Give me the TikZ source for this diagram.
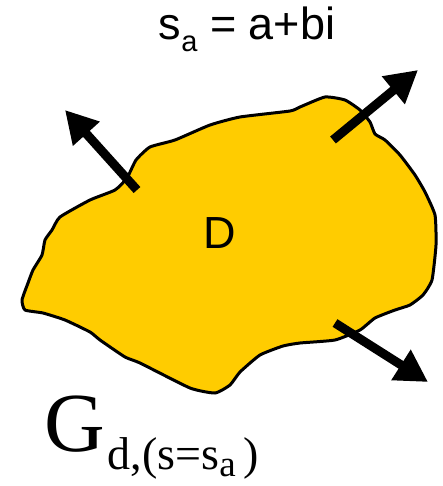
\documentclass[tikz,border=0pt]{standalone}
\usepackage{fontspec}
\setmainfont{Liberation Serif}
\setsansfont{Liberation Sans}
\usetikzlibrary{arrows.meta}
\definecolor{blobfill}{RGB}{255,204,0}
\tikzset{
  normal/.style={line width=9pt,-{Triangle[length=32pt,width=34pt]}},
  blob/.style={draw=black,line width=3pt,fill=blobfill,line join=round},
  sanslabel/.style={font=\sffamily\fontsize{45}{45}\selectfont,inner sep=0pt}
}
\begin{document}
\begin{tikzpicture}[x=1pt,y=-1pt]
\useasboundingbox (0,0) rectangle (442,486);
\path[blob] plot[smooth cycle,tension=0.3] coordinates {
 (60,217) (90,200) (115,190) (127,178) (136,160) (150,147) (175,140)
 (210,125) (240,117) (290,111) (300,107) (325,97) (345,100) (360,110)
 (370,122) (375,134) (385,140) (400,155) (415,175) (425,192) (435,215)
 (436,245) (432,280) (423,295) (410,305) (395,310) (375,318) (360,330)
 (335,340) (300,343) (283,346) (260,355) (240,372) (230,385) (215,393)
 (190,388) (140,363) (125,357) (100,340) (90,332) (65,320) (43,313)
 (25,310) (22,300) (28,283) (33,270) (42,255) (45,240) (52,230)
};
\node[sanslabel] (D) at (220,233) {D};
\node[sanslabel,anchor=base] (sa) at (247,40) {s\raisebox{-12pt}{\fontsize{29}{29}\selectfont a} = a+bi};
\node[inner sep=0pt,anchor=base west] (G) at (44,451)
  {\fontsize{84}{84}\selectfont G\hspace{3pt}\raisebox{-18pt}{\fontsize{46}{46}\selectfont d,(s=s\raisebox{-7pt}{\fontsize{37}{37}\selectfont a}\hspace{8pt})}};
\coordinate (t1) at (137,190); \coordinate (h1) at (65,110);
\coordinate (t2) at (333,140); \coordinate (h2) at (418,70);
\coordinate (t3) at (335,323); \coordinate (h3) at (428,382);
\draw[normal] (t1) -- (h1);
\draw[normal] (t2) -- (h2);
\draw[normal] (t3) -- (h3);
\end{tikzpicture}
\end{document}
